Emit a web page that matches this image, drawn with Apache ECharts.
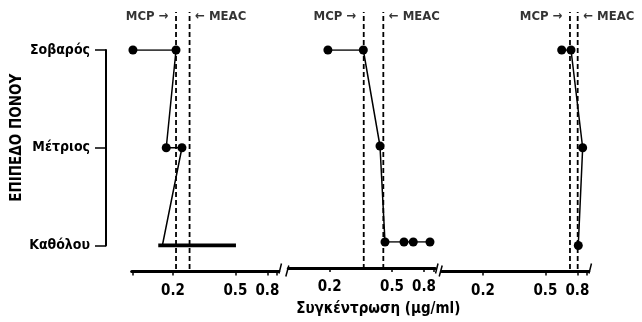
<!DOCTYPE html>
<html>
<head>
<meta charset="utf-8">
<script src="https://cdn.jsdelivr.net/npm/echarts@6/dist/echarts.min.js"></script>
<style>html,body{margin:0;padding:0;background:#fff}#c{width:642px;height:322px}</style>
</head>
<body>
<div id="c"></div>
<script>
// ---- data ----
const levels = ['Καθόλου', 'Μέτριος', 'Σοβαρός'];
const xRange = [0.109, 0.944];            // log-scale concentration range (μg/ml)
const tickLabels = [0.2, 0.5, 0.8];
const minorTicks1 = [0.111, 0.2, 0.5, 0.8, 0.92];
const minorTicks = [0.2, 0.5, 0.8, 0.92];

// panel 1
const p1Values = [0.111, 0.209, 0.181, 0.228, 0.171];
const p1Levels = ['Σοβαρός', 'Σοβαρός', 'Μέτριος', 'Μέτριος', 'Καθόλου'];
const p1Dots   = [true, true, true, true, false];
const p1RangeNone = [0.161, 0.504];       // Καθόλου range bar
// panel 2
const p2Values = [0.195, 0.328, 0.419, 0.451, 0.596, 0.683, 0.873];
const p2Levels = ['Σοβαρός', 'Σοβαρός', 'Μέτριος', 'Καθόλου', 'Καθόλου', 'Καθόλου', 'Καθόλου'];
// panel 3
const p3Values = [0.635, 0.728, 0.864, 0.810];
const p3Levels = ['Σοβαρός', 'Σοβαρός', 'Μέτριος', 'Καθόλου'];

const mcp  = [0.209, 0.330, 0.717];
const meac = [0.255, 0.440, 0.803];

const yTitle = 'ΕΠΙΠΕΔΟ ΠΟΝΟΥ';
const xTitle = 'Συγκέντρωση (μg/ml)';

// ---- layout ----
const FONT = '"Liberation Sans Narrow", "DejaVu Sans Condensed", "Liberation Sans", sans-serif';
const W = 642, H = 322;
const lefts = [131.7, 288.3, 441.7];
const pw = 147;
const gTop = 50, gBottom = 76.5;   // data grid
const dTop = 12, dBottom = 53;     // dashed-line grid
const axisOffset = 26;

const lg = v => Math.log10(v);
const L0 = lg(xRange[0]), L1 = lg(xRange[1]);

const grids = [], xAxes = [], yAxes = [], series = [];

lefts.forEach((left, i) => {
  // data grid
  grids.push({left: left, width: pw, top: gTop, bottom: gBottom});
  xAxes.push({
    type: 'value', gridIndex: grids.length - 1, min: L0, max: L1,
    offset: axisOffset,
    splitLine: {show: false},
    axisLine: {show: true, lineStyle: {color: '#000', width: 3}},
    axisTick: {show: true, length: 4, lineStyle: {color: '#000', width: 1.5},
      customValues: (i === 0 ? minorTicks1 : minorTicks).map(lg)},
    axisLabel: {show: true, customValues: tickLabels.map(lg), margin: 12,
      formatter: v => Math.pow(10, v).toFixed(1),
      color: '#000', fontFamily: FONT, fontWeight: 'bold', fontSize: 15},
    name: i === 1 ? xTitle : '', nameLocation: 'middle', nameGap: 34,
    nameTextStyle: {color: '#000', fontFamily: FONT, fontWeight: 'bold', fontSize: 15, padding: [0, 0, 0, 33]}
  });
  yAxes.push(i === 0 ? {
    type: 'category', gridIndex: grids.length - 1, data: levels, boundaryGap: false,
    offset: left - 106,
    axisLine: {show: true, lineStyle: {color: '#000', width: 2}},
    axisTick: {show: true, length: 11, lineStyle: {color: '#000', width: 1.5}},
    axisLabel: {margin: 16, color: '#000', fontFamily: FONT, fontWeight: 'bold', fontSize: 14},
    splitLine: {show: false},
    name: yTitle, nameLocation: 'middle', nameGap: 81, nameRotate: 90,
    nameTextStyle: {color: '#000', fontFamily: FONT, fontWeight: 'bold', fontSize: 15, padding: [0, 0, 0, 20]}
  } : {
    type: 'category', gridIndex: grids.length - 1, data: levels, boundaryGap: false, show: false
  });
  const dataAxis = xAxes.length - 1;

  // dashed-line grid
  grids.push({left: left, width: pw, top: dTop, bottom: dBottom});
  xAxes.push({type: 'value', gridIndex: grids.length - 1, min: L0, max: L1, show: false});
  yAxes.push({type: 'value', gridIndex: grids.length - 1, min: 0, max: 1, show: false});
  const dashAxis = xAxes.length - 1;

  [[mcp[i], 'left', 'MCP →', 7], [meac[i], 'right', '← MEAC', 5]].forEach(([v, pos, txt, dist]) => {
    series.push({
      type: 'line', xAxisIndex: dashAxis, yAxisIndex: dashAxis,
      data: [[lg(v), 0], [lg(v), 1]], showSymbol: false, silent: true,
      lineStyle: {color: '#000', width: 1.8, type: [5, 3]}
    });
    series.push({
      type: 'scatter', xAxisIndex: dashAxis, yAxisIndex: dashAxis,
      data: [[lg(v), 1]], symbolSize: 1, itemStyle: {color: 'rgba(0,0,0,0)'},
      label: {show: true, position: pos, distance: dist, offset: [0, 5], formatter: txt,
        color: '#000', fontFamily: FONT, fontWeight: 'bold', fontSize: 13}
    });
  });

  // data lines
  let vals, lvls, dots;
  if (i === 0) { vals = p1Values; lvls = p1Levels; dots = p1Dots; }
  else if (i === 1) { vals = p2Values; lvls = p2Levels; dots = vals.map(() => true); }
  else { vals = p3Values; lvls = p3Levels; dots = vals.map(() => true); }
  series.push({
    type: 'line', xAxisIndex: dataAxis, yAxisIndex: dataAxis,
    data: vals.map((v, k) => ({value: [lg(v), lvls[k]], symbolSize: dots[k] ? 9 : 0})),
    symbol: 'circle', showSymbol: true, showAllSymbol: true,
    itemStyle: {color: '#000'}, lineStyle: {color: '#000', width: 1.5}
  });
  if (i === 0) {
    series.push({
      type: 'line', xAxisIndex: dataAxis, yAxisIndex: dataAxis,
      data: p1RangeNone.map(v => [lg(v), 'Καθόλου']), showSymbol: false,
      lineStyle: {color: '#000', width: 4, cap: 'butt'}
    });
  }
});

const chart = echarts.init(document.getElementById('c'), null, {renderer: 'canvas'});
chart.setOption({
  animation: false,
  backgroundColor: '#fff',
  grid: grids, xAxis: xAxes, yAxis: yAxes, series: series
});

// axis-break slashes (decoration)
const ay = H - gBottom + axisOffset;
const slash = (x, y1, y2, dx) => ({type: 'line', shape: {x1: x - dx / 2, y1: y2, x2: x + dx / 2, y2: y1},
  style: {stroke: '#000', lineWidth: 1.5}});
const gfx = [];
lefts.forEach((left, i) => {
  const right = left + pw;
  if (i > 0) gfx.push(slash(left - 1, ay - 6, ay + 5, 3));
  gfx.push(slash(right + 1.5, ay - 8, ay + 2, 2.5));
});
chart.setOption({graphic: gfx});
</script>
</body>
</html>
